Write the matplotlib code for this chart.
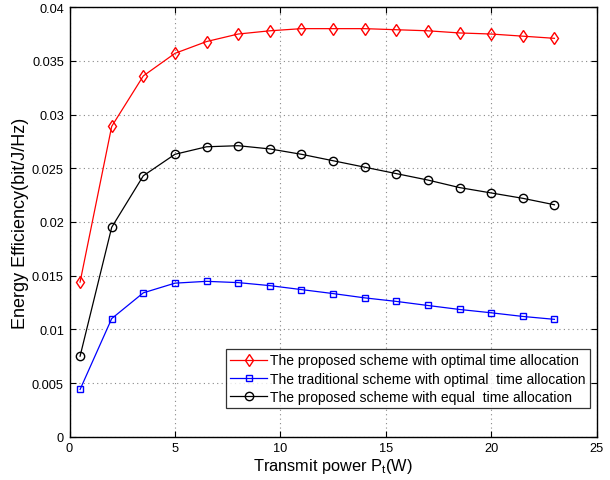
import matplotlib
matplotlib.use("Agg")
import matplotlib.pyplot as plt

plt.rcParams['font.family'] = ['Liberation Sans', 'DejaVu Sans']
plt.rcParams['mathtext.fontset'] = 'custom'
plt.rcParams['mathtext.rm'] = 'Liberation Sans'
plt.rcParams['mathtext.it'] = 'Liberation Sans'

power = [0.5, 2, 3.5, 5, 6.5, 8, 9.5, 11, 12.5, 14, 15.5, 17, 18.5, 20, 21.5, 23]
proposed_opt = [0.0144, 0.0289, 0.0336, 0.0357, 0.0368, 0.0375, 0.0378, 0.0380, 0.0380,
                0.0380, 0.0379, 0.0378, 0.0376, 0.0375, 0.0373, 0.0371]
traditional_opt = [0.0044, 0.0110, 0.0134, 0.0143, 0.01447, 0.01435, 0.01407, 0.0137, 0.01333,
                   0.01293, 0.0126, 0.01222, 0.01185, 0.01154, 0.0112, 0.01093]
proposed_equal = [0.0075, 0.0195, 0.0243, 0.0263, 0.0270, 0.0271, 0.0268, 0.0263, 0.0257,
                  0.0251, 0.0245, 0.0239, 0.0232, 0.0227, 0.0222, 0.0216]

labels = ["The proposed scheme with optimal time allocation",
          "The traditional scheme with optimal  time allocation",
          "The proposed scheme with equal  time allocation"]

fig = plt.figure(figsize=(6.10, 4.81), dpi=100)
ax = fig.add_axes([0.114, 0.09, 0.864, 0.893])

ax.plot(power, proposed_opt, color='red', marker='d', markersize=6.5, markerfacecolor='none',
        markeredgecolor='red', linewidth=0.9, label=labels[0])
ax.plot(power, traditional_opt, color='blue', marker='s', markersize=5, markerfacecolor='none',
        markeredgecolor='blue', linewidth=0.9, label=labels[1])
ax.plot(power, proposed_equal, color='black', marker='o', markersize=6, markerfacecolor='none',
        markeredgecolor='black', linewidth=0.9, label=labels[2])

ax.set_xlim(0, 25)
ax.set_ylim(0, 0.04)
ax.set_xticks([0, 5, 10, 15, 20, 25])
ax.set_yticks([0, 0.005, 0.01, 0.015, 0.02, 0.025, 0.03, 0.035, 0.04])
ax.set_yticklabels(['0', '0.005', '0.01', '0.015', '0.02', '0.025', '0.03', '0.035', '0.04'])
ax.tick_params(direction='in', top=True, right=True, labelsize=9.2, length=4, pad=4)
ax.grid(True, linestyle=(0, (1, 3)), color='#888888', linewidth=0.8)
for s in ax.spines.values():
    s.set_linewidth(1.0)

ax.set_xlabel('Transmit power P$_t$(W)', fontsize=11.8, labelpad=1)
ax.set_ylabel('Energy Efficiency(bit/J/Hz)', fontsize=13, labelpad=2)

leg = ax.legend(loc='lower right', bbox_to_anchor=(0.987, 0.067), fontsize=10,
                frameon=True, fancybox=False, edgecolor='black', handlelength=2.6,
                borderpad=0.3, labelspacing=0.3, handletextpad=0.25, borderaxespad=0)
leg.get_frame().set_linewidth(0.9)

fig.savefig('out.png', dpi=100)
